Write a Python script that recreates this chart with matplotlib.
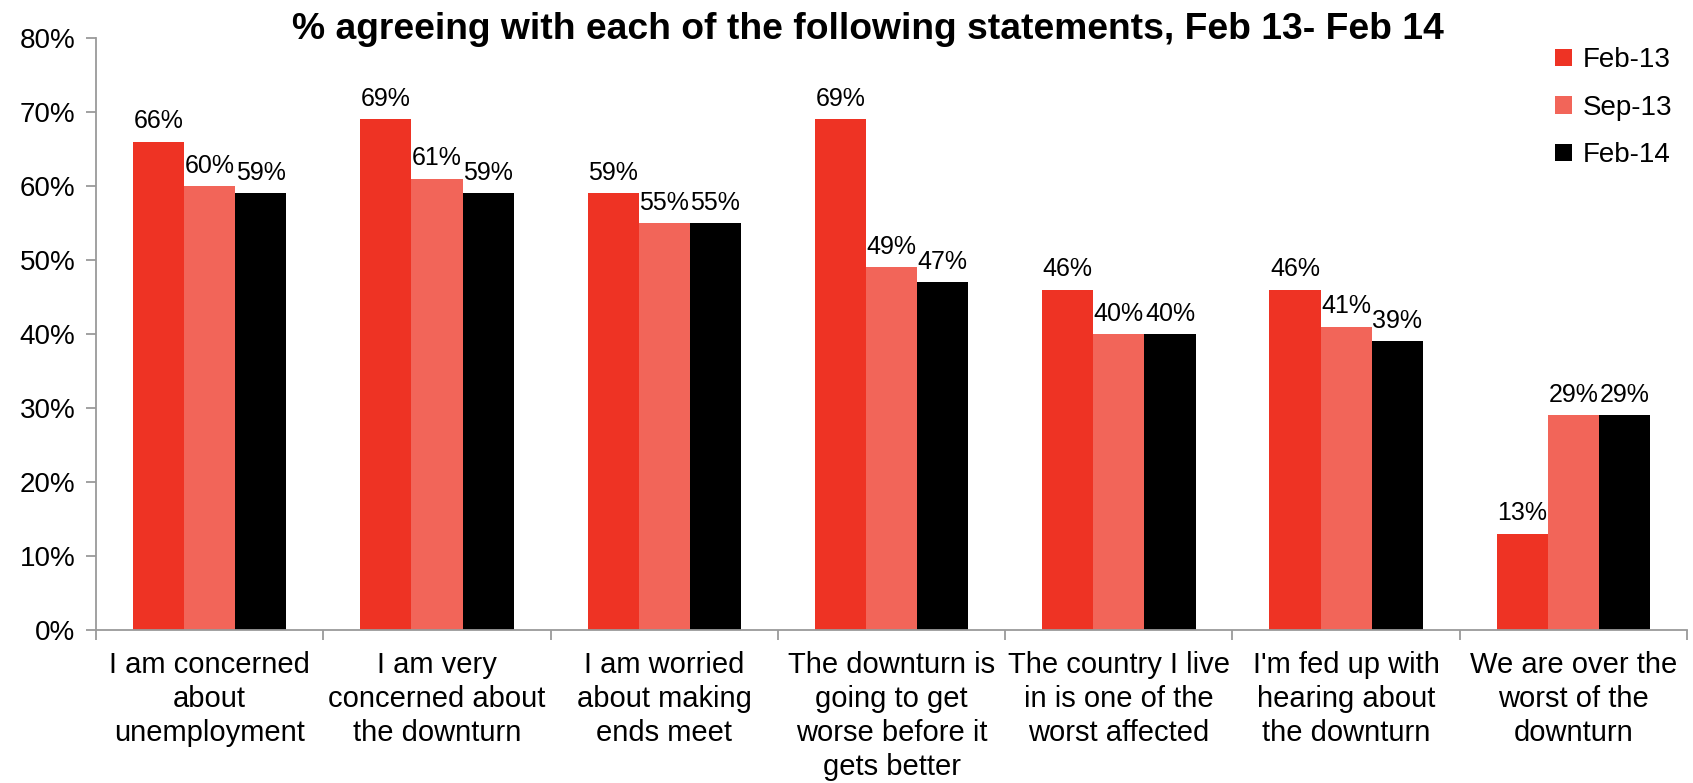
import matplotlib
matplotlib.use("Agg")
import matplotlib.pyplot as plt
import numpy as np

plt.rcParams['font.family'] = ['Liberation Sans', 'DejaVu Sans']

categories = [
    "I am concerned\nabout\nunemployment",
    "I am very\nconcerned about\nthe downturn",
    "I am worried\nabout making\nends meet",
    "The downturn is\ngoing to get\nworse before it\ngets better",
    "The country I live\nin is one of the\nworst affected",
    "I'm fed up with\nhearing about\nthe downturn",
    "We are over the\nworst of the\ndownturn",
]
series_names = ["Feb-13", "Sep-13", "Feb-14"]
feb13 = [66, 69, 59, 69, 46, 46, 13]
sep13 = [60, 61, 55, 49, 40, 41, 29]
feb14 = [59, 59, 55, 47, 40, 39, 29]
colors = ["#EE3324", "#F26559", "#000000"]
yticks = [0, 10, 20, 30, 40, 50, 60, 70, 80]

fig = plt.figure(figsize=(16.93, 7.83), dpi=100)
ax = fig.add_axes([0.0567, 0.1954, 0.9398, 0.7561])

x = np.arange(len(categories))
w = 0.225
for i, (vals, name, c) in enumerate(zip([feb13, sep13, feb14], series_names, colors)):
    pos = x + (i - 1) * w
    ax.bar(pos, vals, width=w, color=c, label=name, edgecolor='none', zorder=2)
    for xp, v in zip(pos, vals):
        ax.annotate(f"{v}%", (xp, v), xytext=(0, 6), textcoords='offset points',
                    ha='center', va='bottom', fontsize=18, color='black')

ax.set_xlim(-0.5, len(categories) - 0.5)
ax.set_ylim(0, 80)
ax.set_yticks(yticks)
ax.set_yticklabels([f"{t}%" for t in yticks], fontsize=20)
ax.set_xticks(x)
ax.set_xticklabels(categories, fontsize=21, linespacing=1.27)
ax.set_xticks(np.arange(-0.5, len(categories)), minor=True)
ax.tick_params(axis='x', which='major', length=0, pad=15)
ax.tick_params(axis='x', which='minor', length=7, color='#9a9a9a', width=1.3)
ax.tick_params(axis='y', length=7, color='#9a9a9a', width=1.3, pad=8)
for s in ['top', 'right']:
    ax.spines[s].set_visible(False)
for s in ['left', 'bottom']:
    ax.spines[s].set_color('#9a9a9a')
    ax.spines[s].set_linewidth(1.3)

fig.text(0.5125, 0.962, "% agreeing with each of the following statements, Feb 13- Feb 14",
         ha='center', va='center', fontsize=26.8, fontweight='bold')

leg = fig.legend(loc='upper right', bbox_to_anchor=(0.9945, 0.954), frameon=False,
                 fontsize=20, handlelength=0.6, handleheight=0.6, handletextpad=0.4,
                 labelspacing=0.78, borderaxespad=0)

fig.savefig("out.png", dpi=100)
